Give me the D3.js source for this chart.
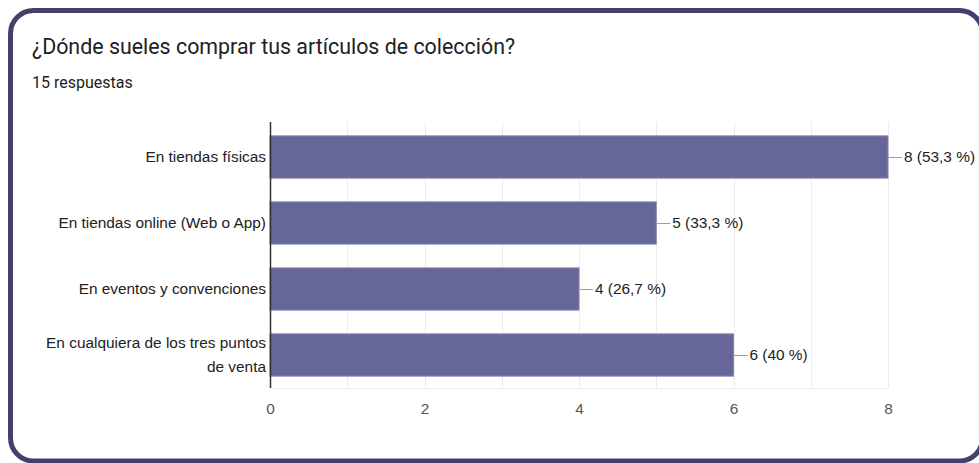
<!DOCTYPE html>
<html>
<head>
<meta charset="utf-8">
<script src="https://cdn.jsdelivr.net/npm/d3@7"></script>
<style>
  html, body { margin: 0; padding: 0; background: #ffffff; }
  svg { display: block; }
</style>
</head>
<body>
<svg id="chart" width="979" height="463"></svg>
<script>
// Survey answers: where collectibles are bought
const categories = [
  ["En tiendas físicas"],
  ["En tiendas online (Web o App)"],
  ["En eventos y convenciones"],
  ["En cualquiera de los tres puntos", "de venta"]
];
const counts = [8, 5, 4, 6];
const percentLabels = ["53,3 %", "33,3 %", "26,7 %", "40 %"];
const xTicks = [0, 2, 4, 6, 8];
const gridValues = [0, 1, 2, 3, 4, 5, 6, 7, 8];
const title = "¿Dónde sueles comprar tus artículos de colección?";
const subtitle = "15 respuestas";

const svg = d3.select("#chart");
const labelFont = "Arial, 'Liberation Sans', sans-serif";

// Card frame
svg.append("rect")
  .attr("x", 10.5).attr("y", 10.5)
  .attr("width", 972).attr("height", 450.5)
  .attr("rx", 23).attr("ry", 23)
  .attr("fill", "#ffffff")
  .attr("stroke", "#463f6e")
  .attr("stroke-width", 5);

svg.append("text")
  .attr("x", 32).attr("y", 54)
  .attr("font-family", "Roboto, sans-serif")
  .attr("font-size", 21.4)
  .attr("fill", "#202124")
  .text(title);

svg.append("text")
  .attr("x", 32).attr("y", 88)
  .attr("font-family", "Roboto, sans-serif")
  .attr("font-size", 16)
  .attr("fill", "#202124")
  .text(subtitle);

const plot = { left: 270, right: 888, top: 124, bottom: 388 };

const x = d3.scaleLinear().domain([0, 8]).range([plot.left, plot.right]);
const y = d3.scaleBand()
  .domain(d3.range(categories.length))
  .range([plot.top, plot.bottom])
  .paddingInner(0.36)
  .paddingOuter(0.18);

const g = svg.append("g");

// Vertical gridlines at every unit
g.selectAll("line.grid")
  .data(gridValues)
  .join("line")
  .attr("class", "grid")
  .attr("x1", d => Math.round(x(d)) + 0.5)
  .attr("x2", d => Math.round(x(d)) + 0.5)
  .attr("y1", plot.top - 2)
  .attr("y2", plot.bottom)
  .attr("stroke", "#ececec")
  .attr("stroke-width", 1);

// Bottom baseline
g.append("line")
  .attr("x1", plot.left).attr("x2", plot.right)
  .attr("y1", plot.bottom + 0.5).attr("y2", plot.bottom + 0.5)
  .attr("stroke", "#ececec");

// Bars
g.selectAll("rect.bar")
  .data(counts)
  .join("rect")
  .attr("class", "bar")
  .attr("x", x(0))
  .attr("y", (d, i) => y(i))
  .attr("width", d => x(d) - x(0))
  .attr("height", y.bandwidth())
  .attr("fill", "#666699")
  .attr("stroke", "#8483b0")
  .attr("stroke-width", 1);

// Value connector lines and labels
g.selectAll("line.lead")
  .data(counts)
  .join("line")
  .attr("class", "lead")
  .attr("x1", d => x(d))
  .attr("x2", d => x(d) + 14)
  .attr("y1", (d, i) => y(i) + y.bandwidth() / 2 + 0.5)
  .attr("y2", (d, i) => y(i) + y.bandwidth() / 2 + 0.5)
  .attr("stroke", "#9e9e9e")
  .attr("stroke-width", 1);

g.selectAll("text.value")
  .data(counts)
  .join("text")
  .attr("class", "value")
  .attr("x", d => x(d) + 16)
  .attr("y", (d, i) => y(i) + y.bandwidth() / 2)
  .attr("dy", "0.35em")
  .attr("font-family", labelFont)
  .attr("font-size", 15.4)
  .attr("fill", "#222222")
  .text((d, i) => `${d} (${percentLabels[i]})`);

// Category labels (right aligned, may wrap)
const catG = g.selectAll("text.cat")
  .data(categories)
  .join("text")
  .attr("class", "cat")
  .attr("text-anchor", "end")
  .attr("font-family", labelFont)
  .attr("font-size", 15.4)
  .attr("fill", "#222222");

catG.each(function(lines, i) {
  const t = d3.select(this);
  const cy = y(i) + y.bandwidth() / 2;
  const lh = 24;
  const start = cy - (lines.length - 1) * lh / 2;
  lines.forEach((ln, j) => {
    t.append("tspan")
      .attr("x", plot.left - 4)
      .attr("y", start + j * lh)
      .attr("dy", "0.35em")
      .text(ln);
  });
});

// Y axis line
g.append("line")
  .attr("x1", plot.left + 0.5).attr("x2", plot.left + 0.5)
  .attr("y1", plot.top - 2).attr("y2", plot.bottom)
  .attr("stroke", "#333333")
  .attr("stroke-width", 1.5);

// X axis tick labels
const xAxis = d3.axisBottom(x).tickValues(xTicks).tickSize(0).tickPadding(15).tickFormat(d3.format("d"));
const ax = svg.append("g").attr("transform", `translate(0,${plot.bottom})`).call(xAxis);
ax.select(".domain").remove();
ax.selectAll("text")
  .attr("font-family", labelFont)
  .attr("font-size", 15.4)
  .attr("fill", "#555555");
</script>
</body>
</html>
